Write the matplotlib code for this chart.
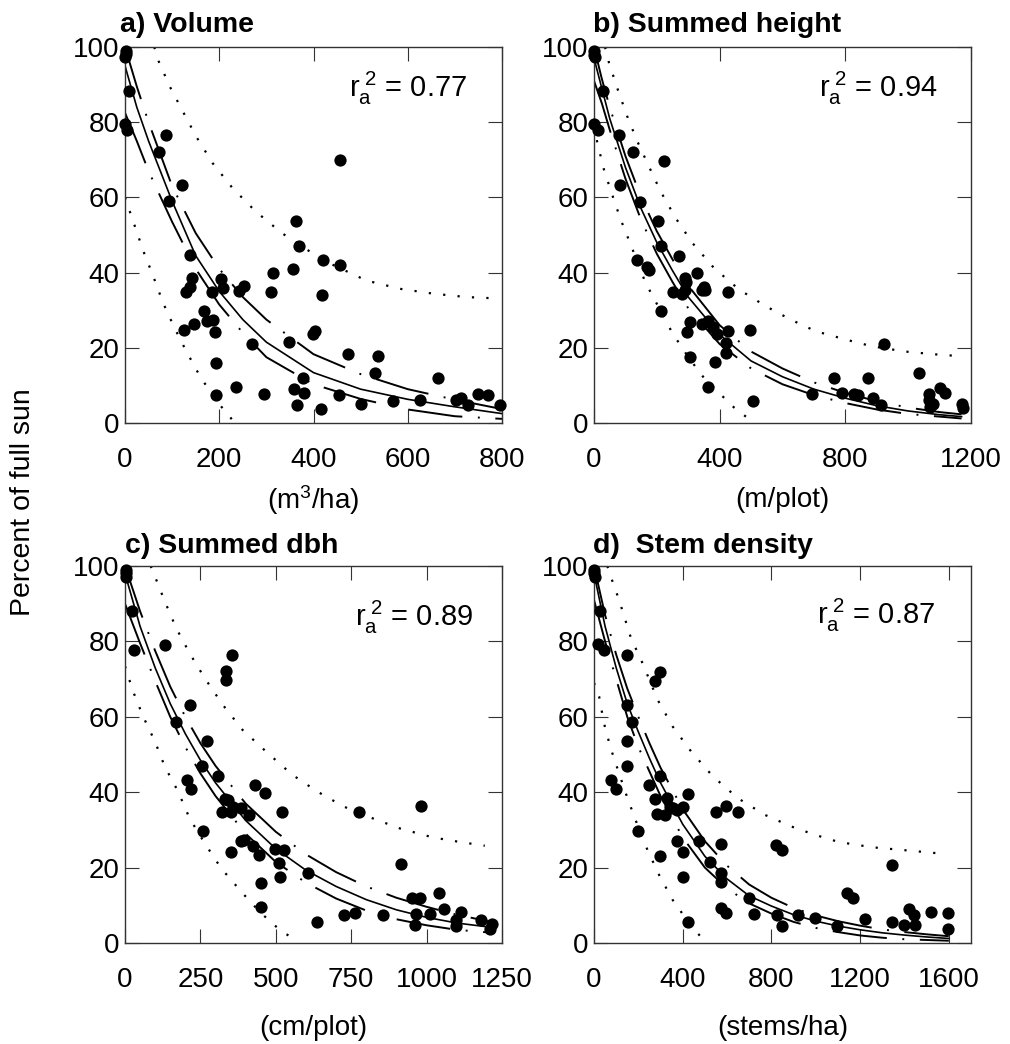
import matplotlib
matplotlib.use('Agg')
import matplotlib.pyplot as plt

plt.rcParams['font.family'] = ['Liberation Sans', 'DejaVu Sans']
plt.rcParams['mathtext.fontset'] = 'custom'
plt.rcParams['mathtext.rm'] = 'Liberation Sans'
plt.rcParams['mathtext.it'] = 'Liberation Sans'
plt.rcParams['mathtext.default'] = 'rm'

# ---- a) Volume ----
vol_x = [2, 2, 1, 9, 1, 4, 87, 73, 122, 94, 457, 363, 370, 420, 456, 357, 315, 138, 143, 138, 129,
         204, 208, 184, 253, 242, 309, 419, 167, 146, 125, 187, 191, 173, 269, 349, 399, 403, 193,
         194, 235, 295, 377, 358, 380, 365, 415, 454, 473, 530, 537, 500, 569, 627, 664, 703, 714,
         728, 749, 770, 795]
vol_y = [99, 98.2, 97.3, 88.3, 79.4, 77.8, 76.5, 72.2, 63.4, 59, 69.9, 53.6, 47, 43.3, 42.1, 41, 39.9,
         44.6, 38.6, 36.3, 34.8, 38.4, 36, 34.8, 36.4, 35, 34.8, 34, 29.8, 26.2, 24.8, 27.3, 24.2, 27,
         20.9, 21.5, 23.8, 24.6, 16, 7.4, 9.6, 7.8, 12.1, 9.1, 8, 4.7, 3.8, 7.5, 18.4, 13.3, 17.7, 5.1,
         5.8, 6.2, 12.1, 6, 6.6, 4.7, 7.8, 7.5, 4.9]
vol_curve_x = [0, 25, 50, 100, 150, 200, 250, 300, 400, 500, 600, 700, 800]
vol_fit = [95, 84, 75, 59, 44.5, 35, 27.5, 21.5, 13.4, 9, 6.3, 4.3, 2.5]
vol_ci_upper = [100, 89.5, 80, 63, 50.5, 41, 33.5, 27.5, 18.3, 13, 9, 6.2, 3.7]
vol_ci_lower = [82.5, 75, 67, 53.5, 41, 31.5, 24, 17.5, 10.3, 6.4, 3.6, 1.8, 1.1]
vol_pi_upper_x = [62, 70, 95, 123, 151, 186, 228, 277, 333, 386, 432, 512, 583, 654, 724, 795]
vol_pi_upper = [100, 96.6, 89.5, 82.8, 76.2, 69.1, 62.5, 56.3, 50.5, 46.1, 42.6, 37.9, 35.7, 34.4, 33.5, 33.1]
vol_pi_lower_x = [0, 21, 39, 60, 81, 105, 130, 161, 200, 230]
vol_pi_lower = [60, 52.3, 45.7, 39, 31.9, 25.3, 19.1, 12, 5, 0.5]

# ---- b) Summed height ----
ht_x = [1, 1, 3, 30, 1, 14, 78, 125, 224, 83, 146, 204, 213, 270, 327, 138, 168, 175, 290, 293, 350,
        352, 345, 426, 252, 280, 290, 213, 306, 295, 343, 364, 380, 392, 427, 419, 420, 306, 385, 364,
        495, 507, 693, 765, 789, 826, 840, 871, 888, 913, 922, 1035, 1067, 1065, 1079, 1071, 1102,
        1116, 1171, 1173]
ht_y = [99, 98, 97.3, 88.3, 79.4, 77.8, 76.5, 72, 69.8, 63.3, 58.8, 53.6, 47, 44.4, 39.8, 43.3, 41.5,
        40.8, 38.6, 37.4, 36.2, 35.4, 35.3, 34.8, 34.8, 34.2, 35.3, 29.7, 26.9, 24.2, 26.2, 27.2, 25.6,
        23.6, 24.6, 21.3, 18.6, 17.6, 16.1, 9.6, 24.7, 5.8, 7.7, 12.1, 8, 7.8, 7.5, 12.1, 6.6, 4.9, 21.1,
        13.3, 7.8, 6.2, 5.1, 4.3, 9.3, 8, 5.1, 4.1]
ht_curve_x = [0, 25, 50, 100, 150, 200, 250, 300, 400, 500, 600, 700, 800, 900, 1000, 1100, 1170]
ht_fit = [97, 89, 81, 68, 57, 48, 40.5, 33.5, 23.5, 16.5, 12.3, 9, 6.6, 4.6, 3.2, 2.2, 1.7]
ht_ci_upper = [100, 91.5, 84, 71, 60, 51, 43.5, 36.5, 26, 19, 14.5, 10.8, 8, 5.8, 4.1, 2.9, 2.3]
ht_ci_lower = [91, 85, 78, 65, 54, 45, 37.5, 30.5, 21, 14.5, 10.3, 7.4, 5.3, 3.6, 2.4, 1.7, 1.2]
ht_pi_upper_x = [35, 48, 76, 106, 138, 175, 212, 260, 313, 382, 462, 546, 626, 706, 810, 885, 991, 1080, 1160]
ht_pi_upper = [100, 95.7, 88.6, 81.5, 74.9, 68.2, 61.6, 54.5, 47.9, 41.2, 35.5, 31.1, 27.5, 24.4, 22,
               20.4, 19, 18.3, 17.8]
ht_pi_lower_x = [0, 11, 32, 58, 85, 117, 164, 207, 249, 302, 350, 408, 446, 488, 515]
ht_pi_lower = [79, 74.4, 67.3, 60.7, 54.1, 47.4, 37.3, 30.6, 24, 17.3, 12, 7.2, 4.1, 1.4, 0.1]

# ---- c) Summed dbh ----
dbh_x = [2, 2, 3, 22, 31, 133, 355, 336, 336, 216, 168, 271, 255, 308, 207, 220, 432, 463, 330, 342,
         359, 386, 322, 351, 412, 520, 775, 983, 258, 383, 394, 353, 423, 443, 497, 528, 510, 513, 451,
         450, 607, 637, 725, 764, 856, 916, 950, 979, 964, 961, 1010, 1041, 1058, 1096, 1099, 1115,
         1181, 1209, 1218]
dbh_y = [99, 98.1, 97.1, 88, 77.7, 79.1, 76.4, 72.1, 69.7, 63.1, 58.6, 53.5, 46.9, 44.4, 43.2, 40.8,
         41.9, 39.7, 38.3, 37.8, 36.1, 35.9, 34.8, 34.7, 34, 34.7, 34.7, 36.3, 29.6, 27, 27.4, 24.2, 25.8,
         23.3, 24.9, 24.6, 21.3, 17.6, 16, 9.6, 18.5, 5.7, 7.5, 7.9, 7.5, 21, 12, 12, 7.6, 4.9, 7.6, 13.2,
         9.1, 6, 4.6, 8.1, 6, 3.8, 5.1]
dbh_curve_x = [0, 50, 100, 150, 200, 250, 300, 400, 500, 600, 700, 800, 900, 1000, 1100, 1220]
dbh_fit = [98, 84, 73, 63.5, 55.5, 48.5, 42.5, 32.5, 25, 19.3, 15, 11.5, 8.8, 6.8, 5.3, 4.1]
dbh_ci_upper = [100, 88, 77.5, 68, 60, 53, 47, 37, 29.5, 23.5, 18.8, 15, 12, 9.6, 7.5, 5.5]
dbh_ci_lower = [90, 79.5, 69.5, 60, 52, 45, 39, 29, 21.5, 16, 11.8, 8.6, 6.3, 4.7, 3.5, 2.7]
dbh_pi_upper_x = [85, 97, 132, 170, 214, 264, 324, 390, 473, 555, 637, 725, 800, 911, 1021, 1110, 1193]
dbh_pi_upper = [100, 97.7, 90.6, 83.5, 76.9, 70.3, 63.2, 56.5, 50.4, 44.6, 40.2, 36.2, 33.7, 30.4, 28,
                26.8, 25.8]
dbh_pi_lower_x = [0, 27, 60, 99, 132, 176, 214, 264, 319, 390, 450, 513, 574]
dbh_pi_lower = [73.4, 66.7, 60.1, 53.5, 46.8, 40.2, 33.1, 26.5, 19.8, 13.2, 8, 3.5, 0.3]

# ---- d) Stem density ----
den_x = [2, 2, 5, 25, 20, 47, 148, 297, 275, 150, 173, 148, 148, 298, 75, 99, 248, 425, 273, 331, 320,
         343, 373, 403, 355, 284, 548, 597, 648, 200, 376, 400, 473, 573, 298, 522, 573, 573, 400, 821,
         846, 573, 596, 423, 700, 722, 824, 847, 922, 997, 1098, 1143, 1170, 1220, 1343, 1346, 1396,
         1422, 1444, 1449, 1521, 1596, 1596]
den_y = [99, 98.1, 97.1, 88, 79.2, 77.7, 76.4, 72, 69.6, 63.1, 58.6, 53.5, 46.9, 44.4, 43.2, 40.9, 41.9,
         39.6, 38.2, 38.4, 34, 36.1, 35.4, 36.1, 35.8, 34.2, 34.7, 36.4, 34.7, 29.6, 27, 24.1, 27, 26.2,
         23.2, 21.5, 18.6, 16.1, 17.6, 26, 24.8, 9.4, 7.9, 5.7, 12, 7.6, 7.5, 4.6, 7.5, 6.5, 4.4, 13.2,
         12, 6.3, 20.8, 5.7, 4.8, 9.1, 7.5, 4.8, 8.1, 7.9, 3.8]
den_curve_x = [0, 50, 100, 150, 200, 250, 300, 400, 500, 600, 700, 800, 900, 1000, 1100, 1200, 1300,
               1400, 1500, 1600]
den_fit = [98, 84, 73, 63.5, 56, 49, 42.5, 31.5, 23, 17, 12.5, 9.8, 7.5, 5.8, 4.5, 3.5, 2.7, 2.1, 1.6, 1.2]
den_ci_upper = [100, 87, 76.5, 67.5, 60, 53, 46.5, 35.5, 27, 20.5, 15.5, 12, 9.3, 7.3, 5.8, 4.6, 3.6,
                2.9, 2.3, 1.8]
den_ci_lower = [91, 80, 70, 60, 52, 45.5, 39, 28, 20, 14.5, 10.5, 7.8, 5.6, 4, 2.9, 2, 1.4, 1, 0.8, 0.6]
den_pi_upper_x = [60, 75, 113, 166, 219, 287, 355, 438, 536, 649, 770, 890, 996, 1103, 1253, 1404, 1569]
den_pi_upper = [100, 97.3, 91, 81, 74.2, 64.5, 57.4, 50.8, 44.2, 38.4, 34, 30.9, 28.7, 26.8, 25.4,
                24.6, 23.7]
den_pi_lower_x = [0, 23, 45, 75, 113, 151, 196, 241, 294, 355, 420, 500]
den_pi_lower = [69, 65.4, 58.3, 51.7, 45, 38.4, 31.3, 24.7, 18, 11.4, 6, 0.3]

titles = ['a) Volume', 'b) Summed height', 'c) Summed dbh', 'd)  Stem density']
units = ['(m$^3$/ha)', '(m/plot)', '(cm/plot)', '(stems/ha)']
r2_values = ['0.77', '0.94', '0.89', '0.87']
x_limits = [800, 1200, 1250, 1700]
x_ticks = [[0, 200, 400, 600, 800], [0, 400, 800, 1200], [0, 250, 500, 750, 1000, 1250],
           [0, 400, 800, 1200, 1600]]

panels = [
    (vol_x, vol_y, vol_curve_x, vol_fit, vol_ci_upper, vol_ci_lower,
     vol_pi_upper_x, vol_pi_upper, vol_pi_lower_x, vol_pi_lower),
    (ht_x, ht_y, ht_curve_x, ht_fit, ht_ci_upper, ht_ci_lower,
     ht_pi_upper_x, ht_pi_upper, ht_pi_lower_x, ht_pi_lower),
    (dbh_x, dbh_y, dbh_curve_x, dbh_fit, dbh_ci_upper, dbh_ci_lower,
     dbh_pi_upper_x, dbh_pi_upper, dbh_pi_lower_x, dbh_pi_lower),
    (den_x, den_y, den_curve_x, den_fit, den_ci_upper, den_ci_lower,
     den_pi_upper_x, den_pi_upper, den_pi_lower_x, den_pi_lower),
]

W, H = 1010, 1044
fig = plt.figure(figsize=(W / 100, H / 100), dpi=100)

# pixel boxes of the four plot areas: left, top, right, bottom
boxes = [(125, 47, 502, 423), (594, 47, 971, 423), (125, 566, 502, 943), (594, 566, 971, 943)]
title_pos = [(120, 32), (593, 32), (125, 553), (593, 553)]
r2_pos = [(467, 97), (938, 97), (473, 626), (935, 624)]
unit_y = [500, 500, 1028, 1028]

ci_style = (0, (28, 8, 1, 8))
pi_style = (0, (1, 5.5))

for i, p in enumerate(panels):
    px, py, cx, fit, ci_hi, ci_lo, pux, pu, plx, pl = p
    l, t, r, b = boxes[i]
    ax = fig.add_axes([l / W, 1 - b / H, (r - l) / W, (b - t) / H])

    ax.plot(cx, fit, color='black', lw=1.2)
    ax.plot(cx, ci_hi, color='black', lw=1.4, linestyle=ci_style)
    ax.plot(cx, ci_lo, color='black', lw=1.4, linestyle=ci_style)
    ax.plot(pux, pu, color='black', lw=1.6, linestyle=pi_style)
    ax.plot(plx, pl, color='black', lw=1.6, linestyle=pi_style)
    ax.scatter(px, py, s=78, color='black', linewidths=0, zorder=3, clip_on=False)

    ax.set_xlim(0, x_limits[i])
    ax.set_ylim(0, 100)
    ax.set_xticks(x_ticks[i])
    ax.set_yticks([0, 20, 40, 60, 80, 100])
    ax.tick_params(direction='in', length=10, width=0.8, color='#333333',
                   top=True, right=True, labelsize=20)
    ax.tick_params(axis='x', pad=17)
    ax.tick_params(axis='y', pad=4)
    for s in ax.spines.values():
        s.set_color('#333333')
        s.set_linewidth(1.0)

    fig.text(title_pos[i][0] / W, 1 - title_pos[i][1] / H, titles[i],
             fontsize=20.5, fontweight='bold', ha='left', va='baseline')
    fig.text(r2_pos[i][0] / W, 1 - r2_pos[i][1] / H, r'$r_a^{\ 2}$ = ' + r2_values[i],
             fontsize=21, ha='right', va='baseline')
    fig.text((l + r) / 2 / W, 1 - unit_y[i] / H, units[i], fontsize=20, ha='center', va='center')

fig.text(23 / W, 1 - 502 / H, 'Percent of full sun', fontsize=20.5, rotation=90,
         ha='center', va='center')

plt.savefig('out.png', dpi=100)
